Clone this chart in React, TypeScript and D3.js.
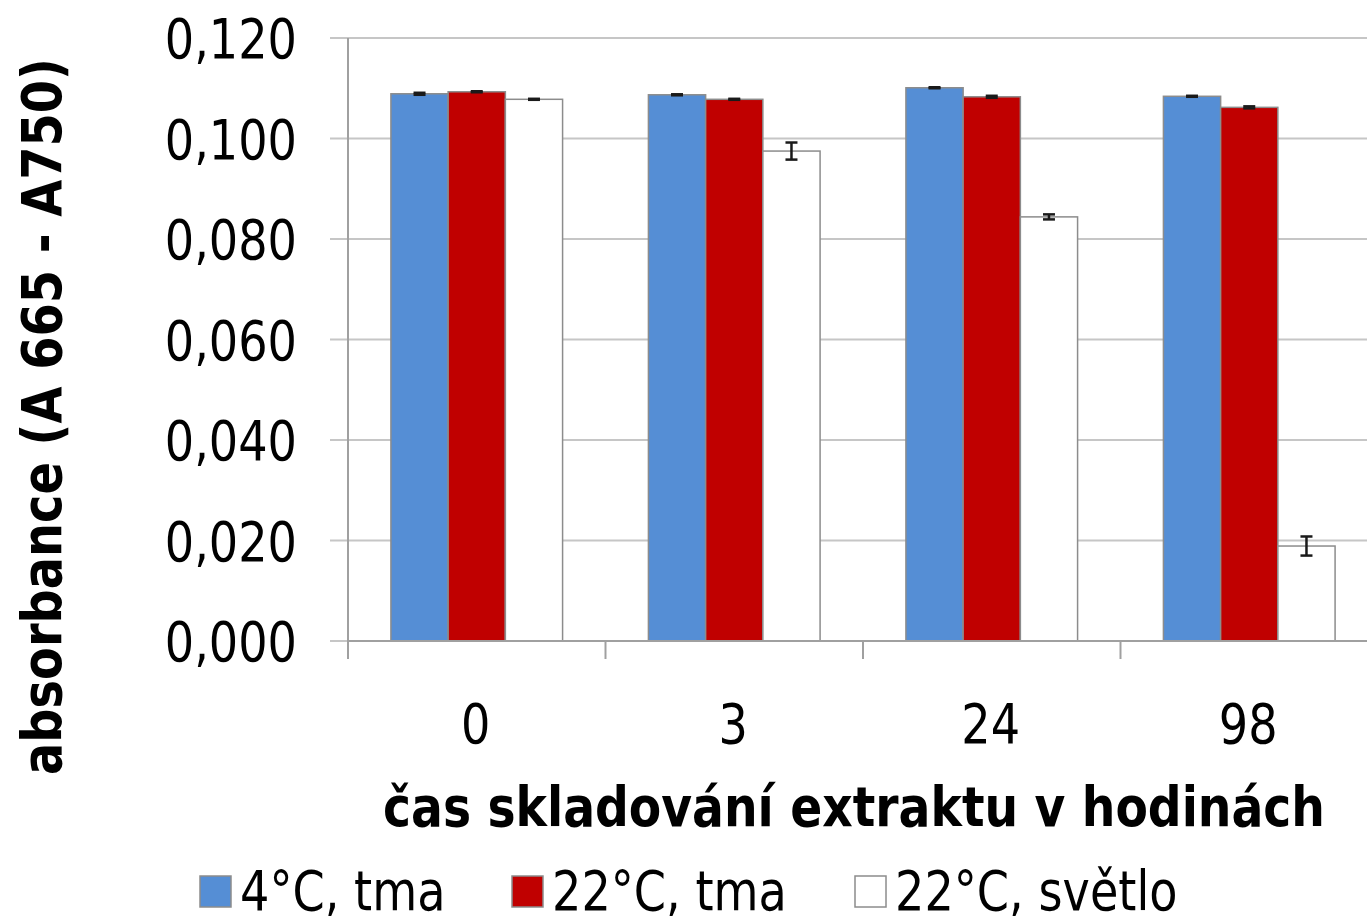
import React from "react";
import * as d3 from "d3";

// Storage time of the extract (hours)
const categories = ["0", "3", "24", "98"];
const seriesNames = ["4°C, tma", "22°C, tma", "22°C, světlo"];
const seriesColors = ["#558ED5", "#C00000", "#FFFFFF"];
// Absorbance (A665 - A750) per series, one value per storage time
const tmaCold = [0.1089, 0.1087, 0.1101, 0.1084];
const tmaWarm = [0.1093, 0.1078, 0.1083, 0.1062];
const svetloWarm = [0.1078, 0.0975, 0.0844, 0.0189];
// Error bar half-widths
const errTmaCold = [0.0002, 0.0001, 0.0001, 0.0001];
const errTmaWarm = [0.0001, 0.0001, 0.0002, 0.0002];
const errSvetloWarm = [0.0001, 0.0017, 0.0005, 0.0019];
const yTicks = [0, 0.02, 0.04, 0.06, 0.08, 0.1, 0.12];

const values = [tmaCold, tmaWarm, svetloWarm];
const errors = [errTmaCold, errTmaWarm, errSvetloWarm];

const W = 1367;
const H = 920;
const left = 348;
const step = 257.5;
const top = 38;
const bottom = 641;

const FONT = "'DejaVu Sans', Verdana, sans-serif";
const SX = 0.84;

function Label(props: {
  x: number;
  y: number;
  text: string;
  anchor?: "start" | "middle" | "end";
  size?: number;
}) {
  const { x, y, text, anchor = "start", size = 55 } = props;
  return (
    <text
      transform={`translate(${x},${y}) scale(${SX},1)`}
      textAnchor={anchor}
      fontFamily={FONT}
      fontSize={size}
      fill="#000"
    >
      {text}
    </text>
  );
}

export default function App() {
  const x0 = d3
    .scaleBand<string>()
    .domain(categories)
    .range([left, left + step * categories.length])
    .paddingInner(1 / 3)
    .paddingOuter(1 / 6);
  const x1 = d3
    .scaleBand<number>()
    .domain(d3.range(seriesNames.length))
    .range([0, x0.bandwidth()]);
  const y = d3.scaleLinear().domain([0, 0.12]).range([bottom, top]);
  const fmt = (v: number) => d3.format(".3f")(v).replace(".", ",");

  const boundaries = d3.range(categories.length + 1).map((i) => left + i * step);

  return (
    <svg
      width={W}
      height={H}
      style={{ position: "absolute", left: 0, top: 0, background: "#fff" }}
    >
      <rect x={0} y={0} width={W} height={H} fill="#fff" />
      {/* gridlines */}
      {yTicks.map((t) => (
        <line
          key={"g" + t}
          x1={left - 18}
          x2={W}
          y1={y(t)}
          y2={y(t)}
          stroke="#c6c6c6"
          strokeWidth={2}
        />
      ))}
      {/* y tick labels */}
      {yTicks.map((t) => (
        <Label key={"yl" + t} x={297} y={y(t) + 20} text={fmt(t)} anchor="end" />
      ))}
      {/* bars */}
      {categories.map((c, ci) => (
        <g key={c} transform={`translate(${x0(c)},0)`}>
          {values.map((vals, si) => (
            <rect
              key={si}
              x={x1(si)}
              y={y(vals[ci])}
              width={x1.bandwidth()}
              height={y(0) - y(vals[ci])}
              fill={seriesColors[si]}
              stroke="#8c8c8c"
              strokeWidth={1.5}
            />
          ))}
          {values.map((vals, si) => {
            const cx = (x1(si) as number) + x1.bandwidth() / 2;
            const hi = y(vals[ci] + errors[si][ci]);
            const lo = y(vals[ci] - errors[si][ci]);
            return (
              <g key={"e" + si} stroke="#1a1a1a" strokeWidth={2.5}>
                <line x1={cx} x2={cx} y1={hi} y2={lo} />
                <line x1={cx - 6} x2={cx + 6} y1={hi} y2={hi} />
                <line x1={cx - 6} x2={cx + 6} y1={lo} y2={lo} />
              </g>
            );
          })}
        </g>
      ))}
      {/* axes */}
      <line x1={left} x2={left} y1={top} y2={659} stroke="#a0a0a0" strokeWidth={2} />
      <line x1={left} x2={W} y1={bottom} y2={bottom} stroke="#a0a0a0" strokeWidth={2} />
      {boundaries.map((b) => (
        <line key={"t" + b} x1={b} x2={b} y1={bottom} y2={659} stroke="#a0a0a0" strokeWidth={2} />
      ))}
      {/* x tick labels */}
      {categories.map((c) => (
        <Label
          key={"xl" + c}
          x={(x0(c) as number) + x0.bandwidth() / 2 - 1}
          y={743}
          text={c}
          anchor="middle"
        />
      ))}
      {/* axis titles */}
      <text
        transform="translate(61,416.5) rotate(-90)"
        textAnchor="middle"
        fontFamily={FONT}
        fontWeight="bold"
        fontSize={56}
        textLength={717}
        lengthAdjust="spacingAndGlyphs"
      >
        absorbance (A 665 - A750)
      </text>
      <text
        x={383}
        y={826}
        fontFamily={FONT}
        fontWeight="bold"
        fontSize={56}
        textLength={942}
        lengthAdjust="spacingAndGlyphs"
      >
        čas skladování extraktu v hodinách
      </text>
      {/* legend */}
      {seriesNames.map((n, i) => {
        const lx = [200, 512, 855][i];
        return (
          <g key={"lg" + n}>
            <rect x={lx} y={876} width={31} height={31} fill={seriesColors[i]} stroke="#8c8c8c" strokeWidth={1.5} />
            <Label x={lx + 40} y={910} text={n} />
          </g>
        );
      })}
    </svg>
  );
}
